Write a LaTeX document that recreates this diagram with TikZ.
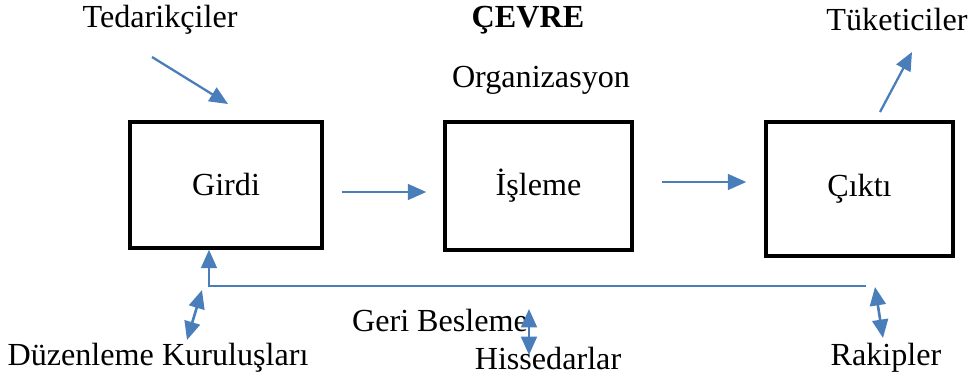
\documentclass[tikz,border=0pt]{standalone}
\usepackage{fontspec}
\setmainfont{Liberation Serif}
\usetikzlibrary{arrows.meta}
\definecolor{flowblue}{RGB}{74,126,187}

\begin{document}
\begin{tikzpicture}[x=0.02cm,y=-0.02cm,
		box/.style={draw=black,line width=2pt,inner sep=0pt,font=\fontsize{18.3}{22}\selectfont},
		txt/.style={inner sep=0pt,font=\fontsize{18.3}{22}\selectfont},
		flow/.style={draw=flowblue,line width=1.3pt,-{Triangle[length=10.5pt,width=9pt]}},
		flowboth/.style={draw=flowblue,line width=1.5pt,{Triangle[length=10.5pt,width=9pt]}-{Triangle[length=10.5pt,width=9pt]}}]
	\useasboundingbox (0,0) rectangle (970,385);

	% boxes
	\node[box,minimum width=3.84cm,minimum height=2.52cm]	(girdi)		at (226,185)	{Girdi};
	\node[box,minimum width=3.74cm,minimum height=2.56cm]	(isleme)	at (538.5,186)	{İşleme};
	\node[box,minimum width=3.74cm,minimum height=2.68cm]	(cikti)		at (859.5,189)	{Çıktı};

	% texts
	\node[txt]						(tedarik)	at (160,20)		{Tedarikçiler};
	\node[txt,font=\fontsize{18.3}{22}\selectfont\bfseries]	(cevre)	at (528,20)	{ÇEVRE};
	\node[txt]						(org)		at (541,80)		{Organizasyon};
	\node[txt]						(tuketici)	at (897,20)		{Tüketiciler};
	\node[txt]						(geri)		at (440,320)	{Geri Besleme};
	\node[txt]						(duzen)		at (158,358)	{Düzenleme Kuruluşları};
	\node[txt]						(hisse)		at (548,358)	{Hissedarlar};
	\node[txt]						(rakip)		at (886,358)	{Rakipler};

	\coordinate (ted-a)	at (152,57);
	\coordinate (ted-b)	at (228,104);
	\coordinate (tuk-a)	at (880,112);
	\coordinate (tuk-b)	at (912,52);
	\coordinate (fb)	at (866,286);

	\draw[flow] (ted-a) -- (ted-b);
	\draw[flow] ([shift={(18,7)}]girdi.east) -- ([shift={(-17,6)}]isleme.west);
	\draw[flow] ([shift={(28,-4)}]isleme.east) -- ([shift={(-18,-7)}]cikti.west);
	\draw[flow] (tuk-a) -- (tuk-b);
	\draw[flow] (fb) -| ([shift={(-17,0)}]girdi.south);

	\draw[flowboth] (202,290) -- (187,340);
	\draw[flowboth] (529,309) -- (529,355);
	\draw[flowboth] (875,287) -- (883,338);
\end{tikzpicture}
\end{document}
